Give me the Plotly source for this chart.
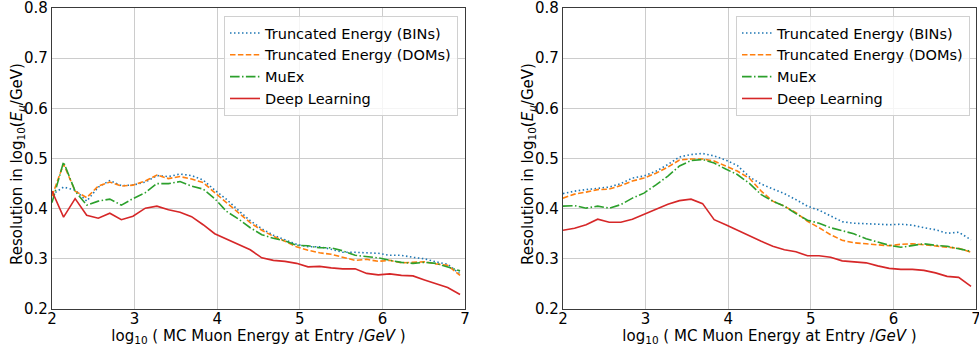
import plotly.graph_objects as go

# log10(E / GeV) bin positions shared by both panels
log_e = [2.00, 2.14, 2.28, 2.42, 2.56, 2.70, 2.84, 2.98, 3.13, 3.27, 3.41, 3.55,
         3.69, 3.83, 3.97, 4.11, 4.26, 4.40, 4.54, 4.68, 4.82, 4.96, 5.10, 5.24,
         5.38, 5.52, 5.67, 5.81, 5.95, 6.09, 6.23, 6.37, 6.51, 6.65, 6.79, 6.94]

# Left panel resolutions
left_bins = [0.428, 0.443, 0.437, 0.415, 0.443, 0.456, 0.446, 0.447, 0.453, 0.466, 0.464, 0.469,
             0.466, 0.457, 0.437, 0.419, 0.396, 0.376, 0.360, 0.347, 0.338, 0.329, 0.324, 0.324,
             0.319, 0.313, 0.313, 0.312, 0.311, 0.307, 0.307, 0.303, 0.300, 0.294, 0.289, 0.270]
left_doms = [0.425, 0.489, 0.435, 0.422, 0.445, 0.453, 0.445, 0.447, 0.455, 0.467, 0.460, 0.464,
             0.459, 0.452, 0.432, 0.412, 0.392, 0.372, 0.357, 0.345, 0.335, 0.324, 0.317, 0.312,
             0.309, 0.303, 0.297, 0.299, 0.295, 0.297, 0.292, 0.293, 0.294, 0.290, 0.287, 0.267]
left_muex = [0.412, 0.493, 0.435, 0.407, 0.415, 0.419, 0.407, 0.420, 0.432, 0.450, 0.450, 0.454,
             0.445, 0.439, 0.420, 0.395, 0.379, 0.362, 0.348, 0.341, 0.336, 0.327, 0.326, 0.322,
             0.322, 0.316, 0.307, 0.304, 0.302, 0.297, 0.293, 0.291, 0.293, 0.291, 0.283, 0.276]
left_dl = [0.435, 0.383, 0.420, 0.387, 0.381, 0.391, 0.378, 0.385, 0.401, 0.405, 0.398, 0.393,
           0.384, 0.368, 0.350, 0.340, 0.328, 0.318, 0.302, 0.297, 0.295, 0.291, 0.284, 0.285,
           0.282, 0.280, 0.280, 0.271, 0.268, 0.270, 0.267, 0.266, 0.258, 0.251, 0.243, 0.229]

# Right panel resolutions
right_bins = [0.430, 0.435, 0.438, 0.440, 0.443, 0.450, 0.461, 0.465, 0.475, 0.488, 0.503, 0.508,
              0.510, 0.505, 0.497, 0.486, 0.463, 0.449, 0.440, 0.430, 0.418, 0.405, 0.397, 0.386,
              0.374, 0.371, 0.370, 0.369, 0.368, 0.369, 0.367, 0.362, 0.358, 0.351, 0.353, 0.338]
right_doms = [0.421, 0.429, 0.433, 0.438, 0.439, 0.446, 0.455, 0.461, 0.471, 0.483, 0.497, 0.499,
              0.499, 0.495, 0.485, 0.475, 0.460, 0.435, 0.415, 0.405, 0.392, 0.375, 0.362, 0.348,
              0.337, 0.332, 0.330, 0.328, 0.326, 0.329, 0.330, 0.328, 0.326, 0.323, 0.321, 0.313]
right_muex = [0.405, 0.406, 0.401, 0.405, 0.401, 0.408, 0.421, 0.431, 0.448, 0.465, 0.485, 0.496,
              0.498, 0.491, 0.479, 0.468, 0.450, 0.428, 0.415, 0.405, 0.390, 0.377, 0.371, 0.362,
              0.356, 0.350, 0.340, 0.333, 0.327, 0.323, 0.327, 0.330, 0.327, 0.325, 0.320, 0.315]
right_dl = [0.357, 0.361, 0.368, 0.379, 0.373, 0.373, 0.379, 0.389, 0.399, 0.409, 0.416, 0.419,
            0.410, 0.378, 0.368, 0.357, 0.345, 0.335, 0.325, 0.318, 0.314, 0.306, 0.306, 0.303,
            0.296, 0.294, 0.292, 0.286, 0.281, 0.279, 0.279, 0.277, 0.272, 0.265, 0.263, 0.245]

x_ticks = [2, 3, 4, 5, 6, 7]
y_ticks = [0.2, 0.3, 0.4, 0.5, 0.6, 0.7, 0.8]
y_tick_text = ["0.2", "0.3", "0.4", "0.5", "0.6", "0.7", "0.8"]

series_names = ["Truncated Energy (BINs)", "Truncated Energy (DOMs)", "MuEx", "Deep Learning"]
colors = ["#1f77b4", "#ff7f0e", "#2ca02c", "#d62728"]
dashes = ["1.5px,2.5px", "5.5px,2.4px", "9.6px,2.4px,1.5px,2.4px", "solid"]

FONT = "DejaVu Sans"
FS = 15
W, H = 979, 346
T, B = 8, 37
PLOT_H = H - T - B

fig = go.Figure()

panels = [
    ("x", "y", "legend", [left_bins, left_doms, left_muex, left_dl]),
    ("x2", "y2", "legend2", [right_bins, right_doms, right_muex, right_dl]),
]
for xa, ya, lg, values in panels:
    for name, col, dash, vals in zip(series_names, colors, dashes, values):
        fig.add_trace(go.Scatter(
            x=log_e, y=vals, mode="lines", name=name,
            line=dict(color=col, width=1.6, dash=dash),
            xaxis=xa, yaxis=ya, legend=lg,
        ))

x_title = "log<sub>10</sub> ( MC Muon Energy at Entry /<i>GeV</i> )"
y_title = "Resolution in log<sub>10</sub>(<i>E</i><sub><i>μ</i></sub>/GeV)"

axis_common = dict(
    showline=True, linecolor="#3a3a3a", linewidth=1.3, mirror=True,
    showgrid=True, gridcolor="#cccccc", gridwidth=1,
    zeroline=False, ticks="", automargin=False, ticklabeloverflow="allow",
    tickfont=dict(family=FONT, size=FS, color="black"),
)

xdomains = [[52 / W, 465 / W], [563 / W, 976 / W]]

layout_axes = {}
for i, (xd, anchor_x, anchor_y) in enumerate(zip(xdomains, ["y", "y2"], ["x", "x2"])):
    suffix = "" if i == 0 else "2"
    layout_axes["xaxis" + suffix] = dict(
        axis_common, domain=xd, anchor=anchor_x, range=[2, 7],
        tickvals=x_ticks, ticklabelstandoff=-4,
        title=dict(text=x_title, font=dict(family=FONT, size=FS, color="black"), standoff=0),
    )
    layout_axes["yaxis" + suffix] = dict(
        axis_common, domain=[0, 1], anchor=anchor_y, range=[0.2, 0.8],
        tickvals=y_ticks, ticktext=y_tick_text, ticklabelstandoff=0,
    )

# vertical axis titles, placed to the left of each panel's tick labels
y_title_annotations = [
    dict(text=y_title, xref="paper", yref="paper", x=xpix / W, y=1 - (164 - T) / PLOT_H,
         xanchor="center", yanchor="middle", textangle=-90, showarrow=False,
         font=dict(family=FONT, size=FS, color="black"))
    for xpix in (17, 528)
]

legend_common = dict(
    font=dict(family=FONT, size=14.5, color="black"),
    bgcolor="rgba(255,255,255,0.8)", bordercolor="#d0d0d0", borderwidth=1,
    xanchor="right", yanchor="top", y=1 - (16 - T) / PLOT_H,
    tracegroupgap=0, itemwidth=30,
)

fig.update_layout(
    width=W, height=H,
    margin=dict(l=0, r=0, t=T, b=B, autoexpand=False),
    paper_bgcolor="white", plot_bgcolor="white",
    font=dict(family=FONT, size=FS, color="black"),
    legend=dict(legend_common, x=458 / W),
    legend2=dict(legend_common, x=970 / W),
    annotations=y_title_annotations,
    **layout_axes,
)

fig.write_html("out.html")
